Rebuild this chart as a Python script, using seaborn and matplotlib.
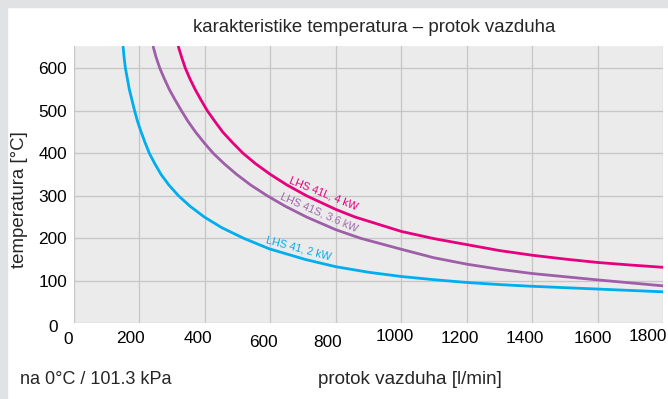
import matplotlib
matplotlib.use("Agg")
import matplotlib.pyplot as plt
import seaborn as sns
import pandas as pd
from matplotlib.patches import Rectangle
from matplotlib.transforms import ScaledTranslation

# Air flow [l/min] vs. outlet temperature [°C] for three heater models
blue_flow = [150, 153, 157, 163, 169, 177, 185, 194, 205, 217, 230, 247, 266, 290, 319, 355,
             398, 451, 518, 597, 707, 800, 900, 1000, 1100, 1200, 1300, 1400, 1600, 1800]
blue_temp = [650, 625, 600, 575, 550, 525, 500, 475, 450, 425, 400, 375, 350, 325, 300, 275,
             250, 225, 200, 175, 150, 133, 120, 110, 102.5, 96, 91, 87, 80.5, 74]

purple_flow = [242, 251, 262, 276, 291, 309, 328, 348, 371, 397, 425, 459, 497, 540, 590, 646,
               710, 800, 875, 1000, 1100, 1200, 1300, 1400, 1600, 1800]
purple_temp = [650, 625, 600, 575, 550, 525, 500, 475, 450, 425, 400, 375, 350, 325, 300, 275,
               250, 220, 200, 174, 154, 139, 127, 117, 102, 88]

magenta_flow = [319, 329, 340, 354, 370, 388, 407, 430, 454, 484, 516, 555, 600, 651, 710, 799,
                858, 1000, 1100, 1200, 1300, 1400, 1500, 1600, 1700, 1800]
magenta_temp = [650, 625, 600, 575, 550, 525, 500, 475, 450, 425, 400, 375, 350, 325, 300, 268,
                250, 216, 199, 185, 171, 160, 151, 143, 137, 131.6]

series_names = ["LHS 41, 2 kW", "LHS 41S, 3.6 kW", "LHS 41L, 4 kW"]
series_colors = ["#00aeef", "#9e5fa8", "#e6007e"]
label_colors = ["#00aeef", "#a268ac", "#e6007e"]

x_ticks = [0, 200, 400, 600, 800, 1000, 1200, 1400, 1600, 1800]
y_ticks = [0, 100, 200, 300, 400, 500, 600]

title = "karakteristike temperatura – protok vazduha"
x_title = "protok vazduha [l/min]"
y_title = "temperatura [°C]"
note = "na 0°C / 101.3 kPa"

frames = []
for name, fl, tp in zip(series_names,
                        [blue_flow, purple_flow, magenta_flow],
                        [blue_temp, purple_temp, magenta_temp]):
    frames.append(pd.DataFrame({"flow": fl, "temp": tp, "model": name}))
df = pd.concat(frames, ignore_index=True)

sns.set_theme(style="darkgrid")
plt.rcParams["font.family"] = ["Liberation Sans", "DejaVu Sans"]

W, H = 668, 399
fig = plt.figure(figsize=(W / 100, H / 100), dpi=100)
fig.patch.set_facecolor("white")

# grey frame strips along the top and left edges
fig.patches.append(Rectangle((0, 1 - 7 / H), 1, 7 / H, transform=fig.transFigure,
                             color="#e1e2e4", zorder=0))
fig.patches.append(Rectangle((0, 0), 7 / W, 1, transform=fig.transFigure,
                             color="#e1e2e4", zorder=0))

left, right, top, bottom = 74, 663.3, 46, 323.3
ax = fig.add_axes([left / W, 1 - bottom / H, (right - left) / W, (bottom - top) / H])
ax.set_facecolor("#ebebeb")

sns.lineplot(data=df, x="flow", y="temp", hue="model", palette=dict(zip(series_names, series_colors)),
             estimator=None, sort=False, linewidth=2.0, legend=False, ax=ax)
for ln in ax.get_lines():
    ln.set_solid_joinstyle("round")

ax.set_xlim(0, 1800)
ax.set_ylim(0, 652)
ax.grid(True, color="#c6c6c6", linewidth=0.95)
for s in ax.spines.values():
    s.set_visible(False)
ax.set_xlabel("")
ax.set_ylabel("")

ax.set_xticks(x_ticks)
ax.set_xticklabels([str(t) for t in x_ticks])
ax.set_yticks(y_ticks)
ax.set_yticklabels([str(t) for t in y_ticks])
ax.tick_params(axis="both", length=0, labelcolor="black", labelsize=12.4)
ax.tick_params(axis="x", pad=4)
ax.tick_params(axis="y", pad=5)

# staggered x tick labels, nudged left of their grid lines
x_dx = [-6, -9, -7, -7, -8, -7, -7, -8, -5.5, -15]
x_dy = [3, 2, 2, 6, 6, 0, 2, 2, 2, 0]
for lab, dx, dy in zip(ax.get_xticklabels(), x_dx, x_dy):
    lab.set_transform(lab.get_transform() + ScaledTranslation(dx / 100, -dy / 100, fig.dpi_scale_trans))
ylabs = ax.get_yticklabels()
ylabs[0].set_transform(ylabs[0].get_transform() + ScaledTranslation(-9 / 100, -3 / 100, fig.dpi_scale_trans))

fig.text(374 / W, 1 - 27 / H, title, ha="center", va="center", fontsize=13.4)
fig.text(20 / W, 1 - 200 / H, y_title, ha="center", va="center", rotation=90, fontsize=13.4)
fig.text(20 / W, 1 - 380 / H, note, ha="left", va="center", fontsize=13)
fig.text(318 / W, 1 - 380 / H, x_title, ha="left", va="center", fontsize=13.6)

# curve labels placed along each line
label_pos = [(298.5, 248.5, -15), (319, 212, -23.5), (324, 193.5, -22)]
for name, col, (px, py, rot) in zip(series_names, label_colors, label_pos):
    fig.text(px / W, 1 - py / H, name, color=col, ha="center", va="center",
             rotation=rot, rotation_mode="anchor", fontsize=7.8)

fig.savefig("out.png", dpi=100)
